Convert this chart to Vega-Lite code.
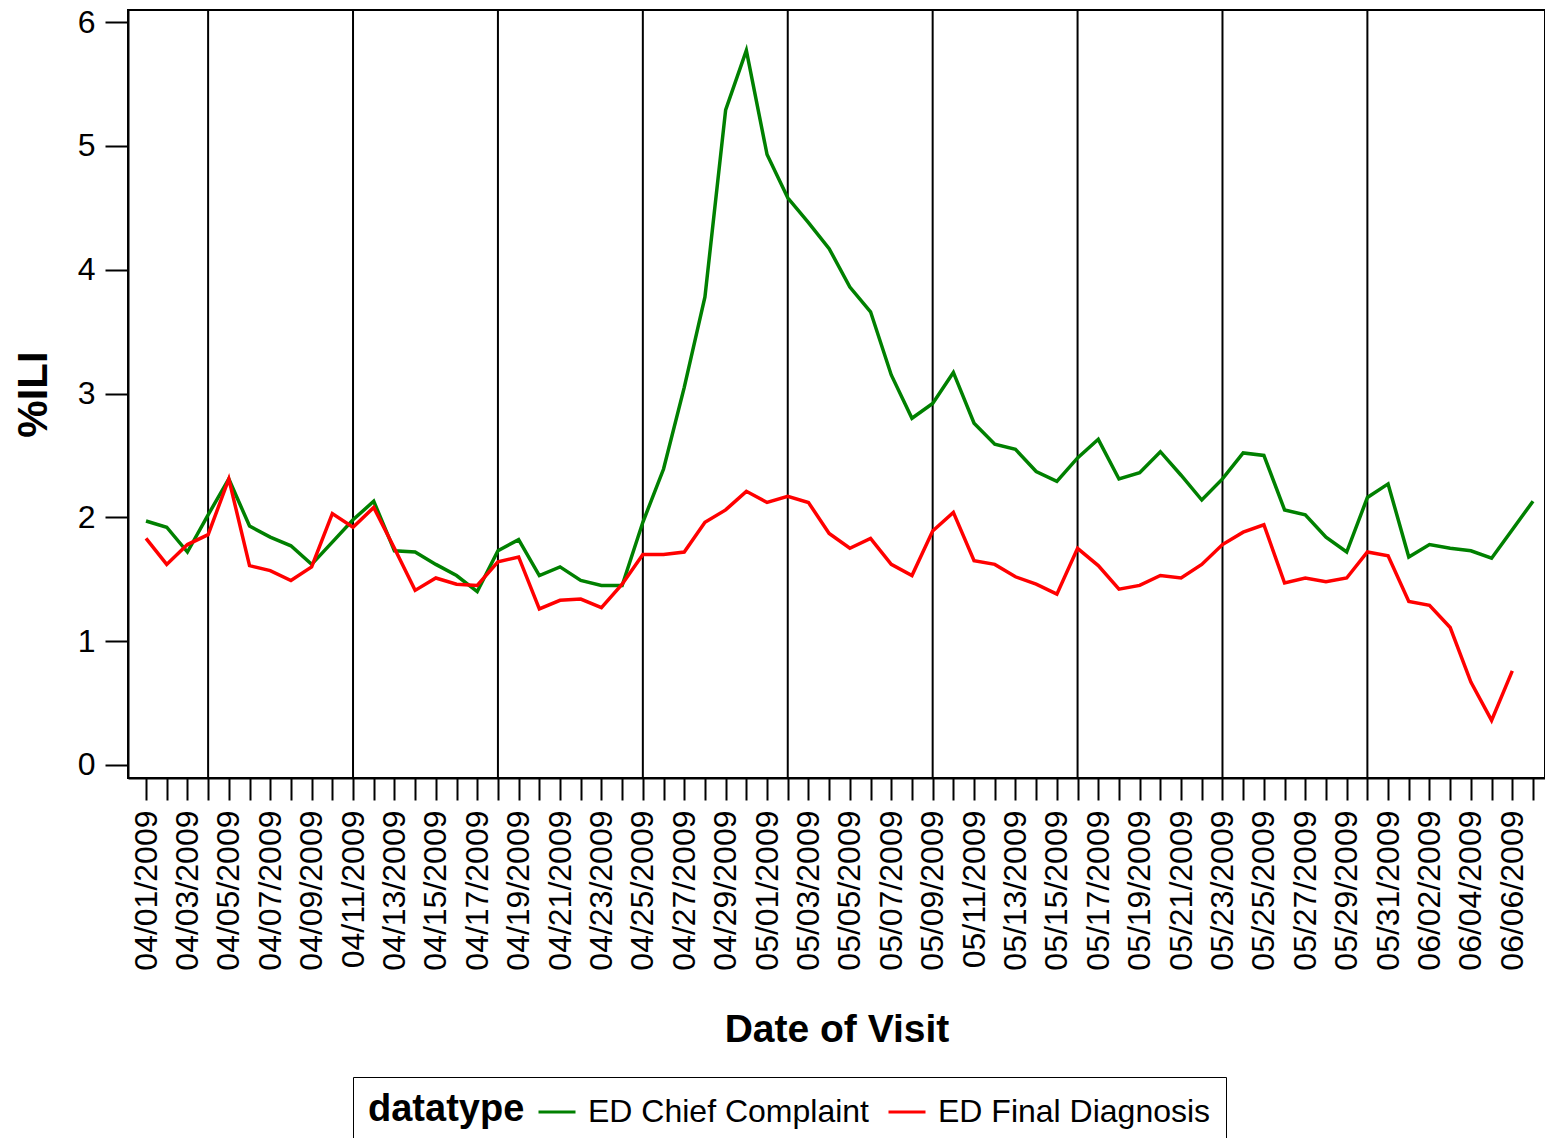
{
  "$schema": "https://vega.github.io/schema/vega-lite/v6.json",
  "width": 1417,
  "height": 768,
  "autosize": {"type": "none"},
  "padding": {"left": 128, "top": 10, "right": 0, "bottom": 360},
  "background": "white",
  "config": {
    "font": "Liberation Sans",
    "view": {"stroke": "black", "strokeWidth": 2},
    "axis": {"grid": false, "domainColor": "black", "domainWidth": 2, "tickColor": "black", "tickWidth": 2, "labelColor": "black", "titleColor": "black", "labelFont": "Liberation Sans", "titleFont": "Liberation Sans"}
  },
  "datasets": {
    "weeks": [
      {"date": "2009-04-04"}, {"date": "2009-04-11"}, {"date": "2009-04-18"}, {"date": "2009-04-25"}, {"date": "2009-05-02"},
      {"date": "2009-05-09"}, {"date": "2009-05-16"}, {"date": "2009-05-23"}, {"date": "2009-05-30"}
    ],
    "ili": [
      {"date": "2009-04-01", "datatype": "ED Chief Complaint", "pct": 1.97},
      {"date": "2009-04-02", "datatype": "ED Chief Complaint", "pct": 1.92},
      {"date": "2009-04-03", "datatype": "ED Chief Complaint", "pct": 1.72},
      {"date": "2009-04-04", "datatype": "ED Chief Complaint", "pct": 2.02},
      {"date": "2009-04-05", "datatype": "ED Chief Complaint", "pct": 2.31},
      {"date": "2009-04-06", "datatype": "ED Chief Complaint", "pct": 1.93},
      {"date": "2009-04-07", "datatype": "ED Chief Complaint", "pct": 1.84},
      {"date": "2009-04-08", "datatype": "ED Chief Complaint", "pct": 1.77},
      {"date": "2009-04-09", "datatype": "ED Chief Complaint", "pct": 1.62},
      {"date": "2009-04-10", "datatype": "ED Chief Complaint", "pct": 1.80},
      {"date": "2009-04-11", "datatype": "ED Chief Complaint", "pct": 1.98},
      {"date": "2009-04-12", "datatype": "ED Chief Complaint", "pct": 2.13},
      {"date": "2009-04-13", "datatype": "ED Chief Complaint", "pct": 1.73},
      {"date": "2009-04-14", "datatype": "ED Chief Complaint", "pct": 1.72},
      {"date": "2009-04-15", "datatype": "ED Chief Complaint", "pct": 1.62},
      {"date": "2009-04-16", "datatype": "ED Chief Complaint", "pct": 1.53},
      {"date": "2009-04-17", "datatype": "ED Chief Complaint", "pct": 1.40},
      {"date": "2009-04-18", "datatype": "ED Chief Complaint", "pct": 1.73},
      {"date": "2009-04-19", "datatype": "ED Chief Complaint", "pct": 1.82},
      {"date": "2009-04-20", "datatype": "ED Chief Complaint", "pct": 1.53},
      {"date": "2009-04-21", "datatype": "ED Chief Complaint", "pct": 1.60},
      {"date": "2009-04-22", "datatype": "ED Chief Complaint", "pct": 1.49},
      {"date": "2009-04-23", "datatype": "ED Chief Complaint", "pct": 1.45},
      {"date": "2009-04-24", "datatype": "ED Chief Complaint", "pct": 1.45},
      {"date": "2009-04-25", "datatype": "ED Chief Complaint", "pct": 1.96},
      {"date": "2009-04-26", "datatype": "ED Chief Complaint", "pct": 2.39},
      {"date": "2009-04-27", "datatype": "ED Chief Complaint", "pct": 3.05},
      {"date": "2009-04-28", "datatype": "ED Chief Complaint", "pct": 3.78},
      {"date": "2009-04-29", "datatype": "ED Chief Complaint", "pct": 5.29},
      {"date": "2009-04-30", "datatype": "ED Chief Complaint", "pct": 5.77},
      {"date": "2009-05-01", "datatype": "ED Chief Complaint", "pct": 4.93},
      {"date": "2009-05-02", "datatype": "ED Chief Complaint", "pct": 4.58},
      {"date": "2009-05-03", "datatype": "ED Chief Complaint", "pct": 4.38},
      {"date": "2009-05-04", "datatype": "ED Chief Complaint", "pct": 4.17},
      {"date": "2009-05-05", "datatype": "ED Chief Complaint", "pct": 3.86},
      {"date": "2009-05-06", "datatype": "ED Chief Complaint", "pct": 3.66},
      {"date": "2009-05-07", "datatype": "ED Chief Complaint", "pct": 3.15},
      {"date": "2009-05-08", "datatype": "ED Chief Complaint", "pct": 2.80},
      {"date": "2009-05-09", "datatype": "ED Chief Complaint", "pct": 2.92},
      {"date": "2009-05-10", "datatype": "ED Chief Complaint", "pct": 3.17},
      {"date": "2009-05-11", "datatype": "ED Chief Complaint", "pct": 2.76},
      {"date": "2009-05-12", "datatype": "ED Chief Complaint", "pct": 2.59},
      {"date": "2009-05-13", "datatype": "ED Chief Complaint", "pct": 2.55},
      {"date": "2009-05-14", "datatype": "ED Chief Complaint", "pct": 2.37},
      {"date": "2009-05-15", "datatype": "ED Chief Complaint", "pct": 2.29},
      {"date": "2009-05-16", "datatype": "ED Chief Complaint", "pct": 2.48},
      {"date": "2009-05-17", "datatype": "ED Chief Complaint", "pct": 2.63},
      {"date": "2009-05-18", "datatype": "ED Chief Complaint", "pct": 2.31},
      {"date": "2009-05-19", "datatype": "ED Chief Complaint", "pct": 2.36},
      {"date": "2009-05-20", "datatype": "ED Chief Complaint", "pct": 2.53},
      {"date": "2009-05-21", "datatype": "ED Chief Complaint", "pct": 2.34},
      {"date": "2009-05-22", "datatype": "ED Chief Complaint", "pct": 2.14},
      {"date": "2009-05-23", "datatype": "ED Chief Complaint", "pct": 2.31},
      {"date": "2009-05-24", "datatype": "ED Chief Complaint", "pct": 2.52},
      {"date": "2009-05-25", "datatype": "ED Chief Complaint", "pct": 2.50},
      {"date": "2009-05-26", "datatype": "ED Chief Complaint", "pct": 2.06},
      {"date": "2009-05-27", "datatype": "ED Chief Complaint", "pct": 2.02},
      {"date": "2009-05-28", "datatype": "ED Chief Complaint", "pct": 1.84},
      {"date": "2009-05-29", "datatype": "ED Chief Complaint", "pct": 1.72},
      {"date": "2009-05-30", "datatype": "ED Chief Complaint", "pct": 2.16},
      {"date": "2009-05-31", "datatype": "ED Chief Complaint", "pct": 2.27},
      {"date": "2009-06-01", "datatype": "ED Chief Complaint", "pct": 1.68},
      {"date": "2009-06-02", "datatype": "ED Chief Complaint", "pct": 1.78},
      {"date": "2009-06-03", "datatype": "ED Chief Complaint", "pct": 1.75},
      {"date": "2009-06-04", "datatype": "ED Chief Complaint", "pct": 1.73},
      {"date": "2009-06-05", "datatype": "ED Chief Complaint", "pct": 1.67},
      {"date": "2009-06-06", "datatype": "ED Chief Complaint", "pct": 1.90},
      {"date": "2009-06-07", "datatype": "ED Chief Complaint", "pct": 2.13},
      {"date": "2009-04-01", "datatype": "ED Final Diagnosis", "pct": 1.83},
      {"date": "2009-04-02", "datatype": "ED Final Diagnosis", "pct": 1.62},
      {"date": "2009-04-03", "datatype": "ED Final Diagnosis", "pct": 1.78},
      {"date": "2009-04-04", "datatype": "ED Final Diagnosis", "pct": 1.86},
      {"date": "2009-04-05", "datatype": "ED Final Diagnosis", "pct": 2.31},
      {"date": "2009-04-06", "datatype": "ED Final Diagnosis", "pct": 1.61},
      {"date": "2009-04-07", "datatype": "ED Final Diagnosis", "pct": 1.57},
      {"date": "2009-04-08", "datatype": "ED Final Diagnosis", "pct": 1.49},
      {"date": "2009-04-09", "datatype": "ED Final Diagnosis", "pct": 1.60},
      {"date": "2009-04-10", "datatype": "ED Final Diagnosis", "pct": 2.03},
      {"date": "2009-04-11", "datatype": "ED Final Diagnosis", "pct": 1.92},
      {"date": "2009-04-12", "datatype": "ED Final Diagnosis", "pct": 2.08},
      {"date": "2009-04-13", "datatype": "ED Final Diagnosis", "pct": 1.75},
      {"date": "2009-04-14", "datatype": "ED Final Diagnosis", "pct": 1.41},
      {"date": "2009-04-15", "datatype": "ED Final Diagnosis", "pct": 1.51},
      {"date": "2009-04-16", "datatype": "ED Final Diagnosis", "pct": 1.46},
      {"date": "2009-04-17", "datatype": "ED Final Diagnosis", "pct": 1.45},
      {"date": "2009-04-18", "datatype": "ED Final Diagnosis", "pct": 1.64},
      {"date": "2009-04-19", "datatype": "ED Final Diagnosis", "pct": 1.68},
      {"date": "2009-04-20", "datatype": "ED Final Diagnosis", "pct": 1.26},
      {"date": "2009-04-21", "datatype": "ED Final Diagnosis", "pct": 1.33},
      {"date": "2009-04-22", "datatype": "ED Final Diagnosis", "pct": 1.34},
      {"date": "2009-04-23", "datatype": "ED Final Diagnosis", "pct": 1.27},
      {"date": "2009-04-24", "datatype": "ED Final Diagnosis", "pct": 1.46},
      {"date": "2009-04-25", "datatype": "ED Final Diagnosis", "pct": 1.70},
      {"date": "2009-04-26", "datatype": "ED Final Diagnosis", "pct": 1.70},
      {"date": "2009-04-27", "datatype": "ED Final Diagnosis", "pct": 1.72},
      {"date": "2009-04-28", "datatype": "ED Final Diagnosis", "pct": 1.96},
      {"date": "2009-04-29", "datatype": "ED Final Diagnosis", "pct": 2.06},
      {"date": "2009-04-30", "datatype": "ED Final Diagnosis", "pct": 2.21},
      {"date": "2009-05-01", "datatype": "ED Final Diagnosis", "pct": 2.12},
      {"date": "2009-05-02", "datatype": "ED Final Diagnosis", "pct": 2.17},
      {"date": "2009-05-03", "datatype": "ED Final Diagnosis", "pct": 2.12},
      {"date": "2009-05-04", "datatype": "ED Final Diagnosis", "pct": 1.87},
      {"date": "2009-05-05", "datatype": "ED Final Diagnosis", "pct": 1.75},
      {"date": "2009-05-06", "datatype": "ED Final Diagnosis", "pct": 1.83},
      {"date": "2009-05-07", "datatype": "ED Final Diagnosis", "pct": 1.62},
      {"date": "2009-05-08", "datatype": "ED Final Diagnosis", "pct": 1.53},
      {"date": "2009-05-09", "datatype": "ED Final Diagnosis", "pct": 1.89},
      {"date": "2009-05-10", "datatype": "ED Final Diagnosis", "pct": 2.04},
      {"date": "2009-05-11", "datatype": "ED Final Diagnosis", "pct": 1.65},
      {"date": "2009-05-12", "datatype": "ED Final Diagnosis", "pct": 1.62},
      {"date": "2009-05-13", "datatype": "ED Final Diagnosis", "pct": 1.52},
      {"date": "2009-05-14", "datatype": "ED Final Diagnosis", "pct": 1.46},
      {"date": "2009-05-15", "datatype": "ED Final Diagnosis", "pct": 1.38},
      {"date": "2009-05-16", "datatype": "ED Final Diagnosis", "pct": 1.75},
      {"date": "2009-05-17", "datatype": "ED Final Diagnosis", "pct": 1.61},
      {"date": "2009-05-18", "datatype": "ED Final Diagnosis", "pct": 1.42},
      {"date": "2009-05-19", "datatype": "ED Final Diagnosis", "pct": 1.45},
      {"date": "2009-05-20", "datatype": "ED Final Diagnosis", "pct": 1.53},
      {"date": "2009-05-21", "datatype": "ED Final Diagnosis", "pct": 1.51},
      {"date": "2009-05-22", "datatype": "ED Final Diagnosis", "pct": 1.62},
      {"date": "2009-05-23", "datatype": "ED Final Diagnosis", "pct": 1.78},
      {"date": "2009-05-24", "datatype": "ED Final Diagnosis", "pct": 1.88},
      {"date": "2009-05-25", "datatype": "ED Final Diagnosis", "pct": 1.94},
      {"date": "2009-05-26", "datatype": "ED Final Diagnosis", "pct": 1.47},
      {"date": "2009-05-27", "datatype": "ED Final Diagnosis", "pct": 1.51},
      {"date": "2009-05-28", "datatype": "ED Final Diagnosis", "pct": 1.48},
      {"date": "2009-05-29", "datatype": "ED Final Diagnosis", "pct": 1.51},
      {"date": "2009-05-30", "datatype": "ED Final Diagnosis", "pct": 1.72},
      {"date": "2009-05-31", "datatype": "ED Final Diagnosis", "pct": 1.69},
      {"date": "2009-06-01", "datatype": "ED Final Diagnosis", "pct": 1.32},
      {"date": "2009-06-02", "datatype": "ED Final Diagnosis", "pct": 1.29},
      {"date": "2009-06-03", "datatype": "ED Final Diagnosis", "pct": 1.11},
      {"date": "2009-06-04", "datatype": "ED Final Diagnosis", "pct": 0.67},
      {"date": "2009-06-05", "datatype": "ED Final Diagnosis", "pct": 0.36},
      {"date": "2009-06-06", "datatype": "ED Final Diagnosis", "pct": 0.76}
    ]
  },
  "layer": [
    {
      "data": {"name": "weeks"},
      "mark": {"type": "rule", "color": "black", "strokeWidth": 2},
      "encoding": {
        "x": {"field": "date", "type": "temporal"}
      }
    },
    {
      "data": {"name": "ili"},
      "mark": {"type": "line", "strokeWidth": 3.5, "clip": true},
      "encoding": {
        "x": {
          "field": "date",
          "type": "temporal",
          "scale": {
            "type": "utc",
            "domain": [
              {"year": 2009, "month": 3, "date": 31, "hours": 3, "minutes": 7, "utc": true},
              {"year": 2009, "month": 6, "date": 7, "hours": 13, "minutes": 55, "utc": true}
            ],
            "nice": false
          },
          "axis": {
            "title": "Date of Visit",
            "tickCount": {"interval": "day", "step": 1},
            "labelExpr": "round((datum.value - utc(2009,3,1)) / 86400000) % 2 == 0 ? utcFormat(datum.value, '%m/%d/%Y') : ''",
            "labelAngle": 270,
            "labelAlign": "right",
            "labelBaseline": "middle",
            "labelOverlap": false,
            "labelFlush": false,
            "labelFontSize": 32,
            "labelPadding": 10,
            "tickSize": 22,
            "titleFontSize": 39,
            "titleFontWeight": "bold",
            "titlePadding": 40
          }
        },
        "y": {
          "field": "pct",
          "type": "quantitative",
          "scale": {"domain": [-0.105, 6.097], "nice": false, "zero": false},
          "axis": {
            "title": "%ILI",
            "values": [0, 1, 2, 3, 4, 5, 6],
            "tickSize": 23,
            "labelFontSize": 32,
            "labelPadding": 10,
            "titleFontSize": 42,
            "titleFontWeight": "bold",
            "titlePadding": 22
          }
        },
        "color": {
          "field": "datatype",
          "type": "nominal",
          "scale": {"domain": ["ED Chief Complaint", "ED Final Diagnosis"], "range": ["#008000", "#ff0000"]},
          "legend": {
            "title": "datatype",
            "orient": "none",
            "legendX": 225,
            "legendY": 1067,
            "direction": "horizontal",
            "titleOrient": "left",
            "titleFontSize": 38,
            "titleFontWeight": "bold",
            "titleColor": "black",
            "titlePadding": 12,
            "labelFontSize": 32,
            "labelColor": "black",
            "labelLimit": 600,
            "labelOffset": 11,
            "columnPadding": 13,
            "symbolType": "stroke",
            "symbolSize": 1369,
            "symbolStrokeWidth": 3,
            "strokeColor": "black",
            "padding": 15
          }
        }
      }
    }
  ]
}
